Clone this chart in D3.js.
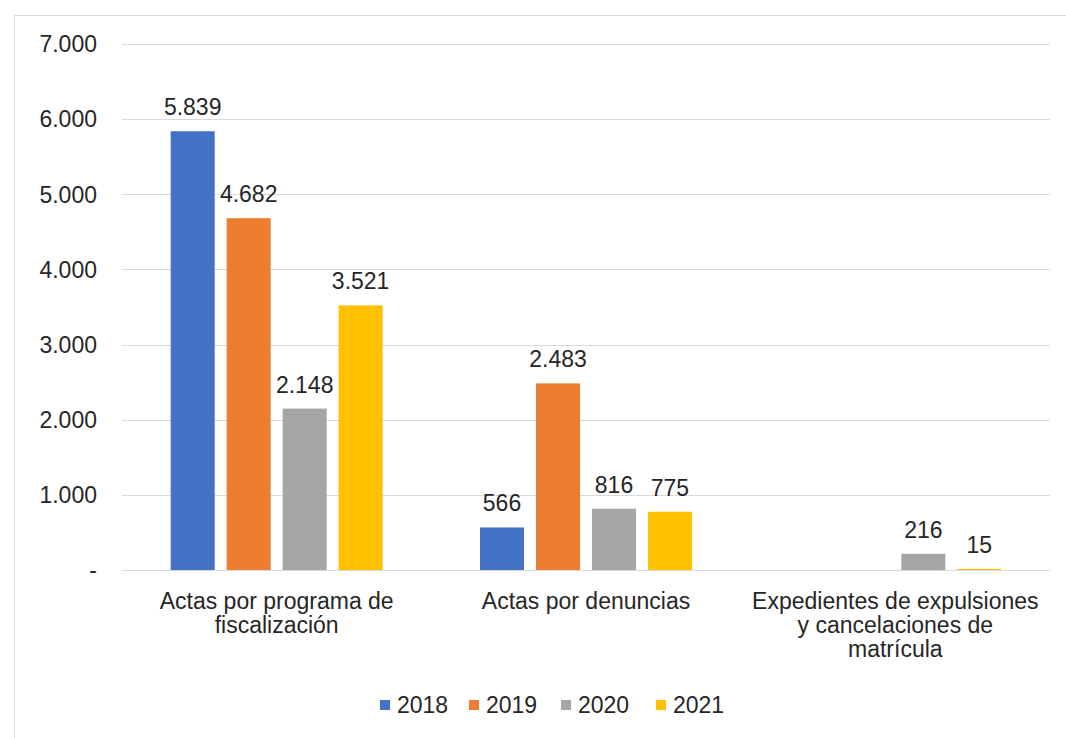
<!DOCTYPE html>
<html><head><meta charset="utf-8">
<script src="https://cdn.jsdelivr.net/npm/d3@7"></script>
<style>
html,body{margin:0;padding:0;background:#fff;}
text{font-family:"Liberation Sans",Arial,sans-serif;fill:#262626;}
</style></head>
<body>
<svg id="chart" width="1066" height="738"></svg>
<script>
const categories = [
  ["Actas por programa de","fiscalización"],
  ["Actas por denuncias"],
  ["Expedientes de expulsiones","y cancelaciones de","matrícula"]
];
const seriesNames = ["2018","2019","2020","2021"];
const seriesColors = ["#4472C4","#ED7D31","#A5A5A5","#FFC000"];
const values2018 = [5839, 566, null];
const values2019 = [4682, 2483, null];
const values2020 = [2148, 816, 216];
const values2021 = [3521, 775, 15];
const yTicks = [0,1000,2000,3000,4000,5000,6000,7000];
const seriesValues = [values2018, values2019, values2020, values2021];

const svg = d3.select("#chart");
const fs = 23;
svg.append("rect").attr("x",14.5).attr("y",15.5).attr("width",1100).attr("height",800)
  .attr("fill","none").attr("stroke","#d9d9d9").attr("stroke-width",1);

const plotL = 122, plotR = 1050, plotT = 44, plotB = 570;
const y = d3.scaleLinear().domain([0,7000]).range([plotB, plotT]);
const catIdx = categories.map((c,i)=>i);
const x0 = d3.scaleBand().domain(catIdx).range([plotL, plotR]).paddingInner(0.276).paddingOuter(0.138);
const x1 = d3.scaleBand().domain(seriesNames).range([0, x0.bandwidth()]).paddingInner(0.214).paddingOuter(0.107);

const fmt = v => v === 0 ? "-" : d3.format(",")(v).replace(/,/g,".");

// gridlines
svg.append("g").selectAll("line").data(yTicks).join("line")
  .attr("x1",plotL).attr("x2",plotR)
  .attr("y1",d=>Math.round(y(d))+0.5).attr("y2",d=>Math.round(y(d))+0.5)
  .attr("stroke","#d9d9d9").attr("stroke-width",1);

// y labels
svg.append("g").selectAll("text").data(yTicks).join("text")
  .attr("x",97).attr("y",d=>y(d)).attr("dy","0.36em")
  .attr("text-anchor","end").attr("font-size",fs)
  .text(d=>fmt(d));

// bars
seriesNames.forEach((s,si)=>{
  const g = svg.append("g");
  const data = seriesValues[si].map((v,ci)=>({v,ci})).filter(d=>d.v!==null);
  g.selectAll("rect").data(data).join("rect")
    .attr("x",d=>x0(d.ci)+x1(s)).attr("width",x1.bandwidth())
    .attr("y",d=>y(d.v)).attr("height",d=>plotB - y(d.v))
    .attr("fill",seriesColors[si]);
  g.selectAll("text").data(data).join("text")
    .attr("x",d=>x0(d.ci)+x1(s)+x1.bandwidth()/2)
    .attr("y",d=>y(d.v)-16)
    .attr("text-anchor","middle").attr("font-size",fs)
    .text(d=>fmt(d.v));
});

// category labels
categories.forEach((lines,ci)=>{
  const t = svg.append("text").attr("text-anchor","middle").attr("font-size",fs)
    .attr("x",x0(ci)+x0.bandwidth()/2).attr("y",609);
  lines.forEach((ln,li)=>{
    t.append("tspan").attr("x",x0(ci)+x0.bandwidth()/2).attr("y",609+li*24).text(ln);
  });
});

// legend
const legX = [380, 469, 561, 656];
const leg = svg.append("g");
seriesNames.forEach((s,i)=>{
  leg.append("rect").attr("x",legX[i]).attr("y",700).attr("width",10).attr("height",10).attr("fill",seriesColors[i]);
  leg.append("text").attr("x",legX[i]+17).attr("y",713).attr("font-size",fs).text(s);
});
</script>
</body></html>
